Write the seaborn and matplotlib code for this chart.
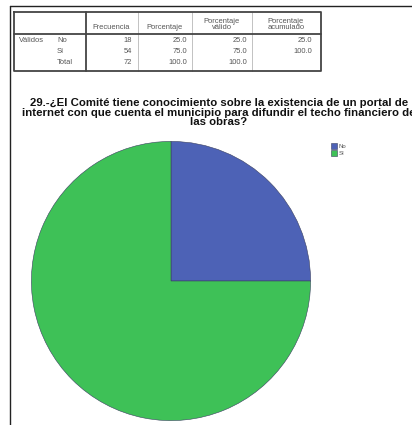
import matplotlib
matplotlib.use("Agg")
import matplotlib.pyplot as plt
from matplotlib.lines import Line2D
import seaborn as sns

# frequency table data
categories = ["No", "Sí"]
frecuencia = [18, 54]
porcentaje = [25.0, 75.0]
porc_valido = [25.0, 75.0]
porc_acumulado = [25.0, 100.0]
total_frec = 72
total_pct = 100.0

title = ("29.-¿El Comité tiene conocimiento sobre la existencia de un portal de\n"
         "internet con que cuenta el municipio para difundir el techo financiero de\n"
         "las obras?")

colors = ["#4d62b6", "#3ec157"]

sns.set_style("white")
plt.rcParams["font.family"] = ["Liberation Sans", "DejaVu Sans"]

W, H = 412, 425
fig = plt.figure(figsize=(W / 100, H / 100), dpi=100)

# page frame (pixel coords)
def px_line(x0, y0, x1, y1, lw=1.0, color="#222222"):
    fig.add_artist(Line2D([x0 / W, x1 / W], [1 - y0 / H, 1 - y1 / H],
                          lw=lw, color=color, transform=fig.transFigure))

px_line(10, 6, 412, 6, lw=1.0)
px_line(10, 6, 10, 425, lw=1.0)

# table drawn in an overlay axes with pixel coordinates
tab = fig.add_axes([0, 0, 1, 1], facecolor="none")
tab.set_xlim(0, W)
tab.set_ylim(H, 0)
tab.axis("off")

tx0, tx1, ty0, ty1 = 14, 321, 12, 71
yhead = 34
cols = [86, 138, 192, 252]
for x in cols[1:]:
    tab.plot([x, x], [ty0, ty1], color="#b8b8b8", lw=0.6)
tab.plot([tx0, tx1, tx1, tx0, tx0], [ty0, ty0, ty1, ty1, ty0], color="#444444", lw=1.3)
tab.plot([tx0, tx1], [yhead, yhead], color="#444444", lw=1.3)
tab.plot([cols[0], cols[0]], [ty0, ty1], color="#444444", lw=1.3)

fs = 5.4
tc = "#555555"
heads = [("Frecuencia", 111), ("Porcentaje", 165), ("Porcentaje\nválido", 222),
         ("Porcentaje\nacumulado", 286)]
for txt, x in heads:
    tab.text(x, 31, txt, ha="center", va="bottom", fontsize=fs, color=tc, linespacing=0.9)

rows_y = [40.5, 51.5, 62.5]
tab.text(19, rows_y[0], "Válidos", ha="left", va="center", fontsize=fs, color=tc)
right_x = [132, 187, 247, 312]
for i, cat in enumerate(categories):
    y = rows_y[i]
    tab.text(57, y, cat, ha="left", va="center", fontsize=fs, color=tc)
    tab.text(right_x[0], y, f"{frecuencia[i]}", ha="right", va="center", fontsize=fs, color=tc)
    tab.text(right_x[1], y, f"{porcentaje[i]:.1f}", ha="right", va="center", fontsize=fs, color=tc)
    tab.text(right_x[2], y, f"{porc_valido[i]:.1f}", ha="right", va="center", fontsize=fs, color=tc)
    tab.text(right_x[3], y, f"{porc_acumulado[i]:.1f}", ha="right", va="center", fontsize=fs, color=tc)
y = rows_y[2]
tab.text(57, y, "Total", ha="left", va="center", fontsize=fs, color=tc)
tab.text(right_x[0], y, f"{total_frec}", ha="right", va="center", fontsize=fs, color=tc)
tab.text(right_x[1], y, f"{total_pct:.1f}", ha="right", va="center", fontsize=fs, color=tc)
tab.text(right_x[2], y, f"{total_pct:.1f}", ha="right", va="center", fontsize=fs, color=tc)

# chart title (the reference also runs past the right edge)
tab.text(219, 98, title, ha="center", va="top", fontsize=8.2, fontweight="bold",
         color="#111111", linespacing=0.95, clip_on=False)

# pie
cx, cy, r = 171, 281, 141
ax = fig.add_axes([(cx - r) / W, (H - cy - r) / H, 2 * r / W, 2 * r / H])
wedges, _ = ax.pie(frecuencia, colors=colors, startangle=90, counterclock=False,
                   radius=1, wedgeprops=dict(edgecolor="#3a4060", linewidth=0.4))
ax.set_xlim(-1.01, 1.01)
ax.set_ylim(-1.01, 1.01)
ax.set_aspect("equal")
ax.axis("off")

leg = fig.legend(wedges, categories, loc="upper left", bbox_to_anchor=(331 / W, 1 - 143 / H),
                 fontsize=4.3, frameon=False, handlelength=1.0, handleheight=1.2,
                 handletextpad=0.3, labelspacing=0.1, borderpad=0, borderaxespad=0)
for t in leg.get_texts():
    t.set_color("#555555")

fig.savefig("out.png", dpi=100, facecolor="white")
